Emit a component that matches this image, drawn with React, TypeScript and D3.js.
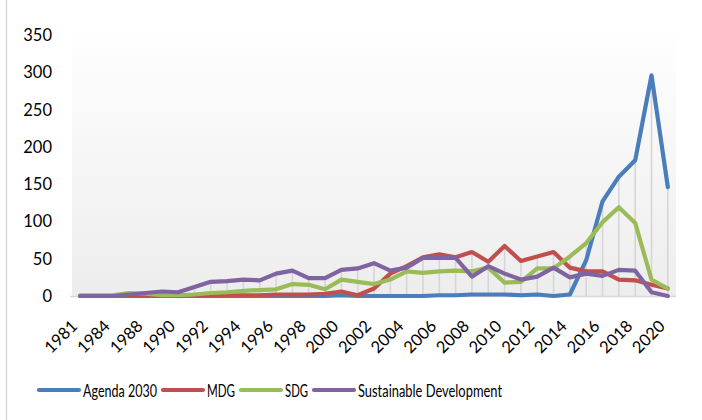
import React from "react";
import * as d3 from "d3";

const years = ["1981","1983","1984","1987","1988","1989","1990","1991","1992","1993","1994","1995","1996","1997","1998","1999","2000","2001","2002","2003","2004","2005","2006","2007","2008","2009","2010","2011","2012","2013","2014","2015","2016","2017","2018","2019","2020"];

const agenda2030 = [0,0,0,0,0,0,0,0,0,0,0,0,0,0,0,0,1,0,0,0,0,0,1,1,2,2,2,1,2,0,2,48,127,160,182,296,146];
const mdg = [0,0,0,0,0,0,0,0,1,1,1,1,2,2,2,3,6,1,10,30,40,52,56,52,59,46,67,47,53,59,38,33,33,22,21,15,10];
const sdg = [1,1,1,4,3,1,1,2,4,5,7,8,9,16,15,9,22,19,16,22,33,31,33,34,33,38,18,19,37,37,53,71,99,119,98,22,10];
const sustainableDev = [0,0,0,2,4,6,5,12,19,20,22,21,30,34,24,24,35,37,44,34,38,51,51,51,26,40,30,22,26,38,25,30,27,35,34,5,0];

const seriesNames = ["Agenda 2030", "MDG", "SDG", "Sustainable Development"];
const seriesColors = ["#4A7EBB", "#C0504D", "#9BBB59", "#8064A2"];
const yTicks = [0, 50, 100, 150, 200, 250, 300, 350];

const legendTextWidths = [74, 28, 23, 144];

export default function App() {
  const W = 702, H = 420;
  const x = d3.scaleBand<string>().domain(years).range([72, 676]).padding(0);
  const y = d3.scaleLinear().domain([0, 350]).range([296, 35]);
  const allSeries = [agenda2030, mdg, sdg, sustainableDev];
  const cx = (yr: string) => (x(yr) as number) + x.bandwidth() / 2;
  const line = d3.line<number>()
    .x((_, i) => cx(years[i]))
    .y((d) => y(d));
  const font = "Lato, 'Open Sans', sans-serif";

  const lineLen = 40;
  let lx = 39;
  const legendItems = seriesNames.map((name, i) => {
    const item = { name, color: seriesColors[i], x1: lx, x2: lx + lineLen, tx: lx + lineLen + 4, tw: legendTextWidths[i] };
    lx = item.tx + item.tw + 6;
    return item;
  });

  return (
    <svg width={W} height={H} style={{ position: "absolute", left: 0, top: 0, background: "#fff" }}>
      <defs>
        <linearGradient id="bg" x1="0" y1="0" x2="0" y2="1">
          <stop offset="0%" stopColor="#ffffff" />
          <stop offset="100%" stopColor="#ededed" />
        </linearGradient>
      </defs>
      <line x1={6.5} x2={6.5} y1={0} y2={H} stroke="#d9d9d9" strokeWidth={1.5} />
      <rect x={72} y={24} width={604} height={272} fill="url(#bg)" />
      {years.map((yr, i) => {
        const m = Math.max(...allSeries.map((s) => s[i]));
        return (
          <line key={yr} x1={cx(yr)} x2={cx(yr)} y1={y(m)} y2={y(0)} stroke="#d6d6d6" strokeWidth={1.6} />
        );
      })}
      <line x1={70} x2={676} y1={y(0) + 0.5} y2={y(0) + 0.5} stroke="#d9d9d9" strokeWidth={1.5} />
      {yTicks.map((t) => (
        <text key={t} x={52} y={y(t)} textAnchor="end" dominantBaseline="central" fontFamily={font} fontSize={16.5} fill="#000">
          {t}
        </text>
      ))}
      {years.map((yr, i) =>
        i % 2 === 0 ? (
          <text
            key={yr}
            transform={`translate(${cx(yr) - 6},${323}) rotate(-45)`}
            textAnchor="end"
            dominantBaseline="central"
            fontFamily={font}
            fontSize={16.5}
            fill="#000"
          >
            {yr}
          </text>
        ) : null
      )}
      {allSeries.map((s, i) => (
        <path key={seriesNames[i]} d={line(s) as string} fill="none" stroke={seriesColors[i]} strokeWidth={4.2} strokeLinejoin="round" strokeLinecap="round" />
      ))}
      {legendItems.map((it) => (
        <g key={it.name}>
          <line x1={it.x1} x2={it.x2} y1={390} y2={390} stroke={it.color} strokeWidth={4.2} strokeLinecap="round" />
          <text x={it.tx} y={390} dominantBaseline="central" fontFamily={font} fontSize={17.5} fill="#000" textLength={it.tw} lengthAdjust="spacingAndGlyphs">
            {it.name}
          </text>
        </g>
      ))}
    </svg>
  );
}
